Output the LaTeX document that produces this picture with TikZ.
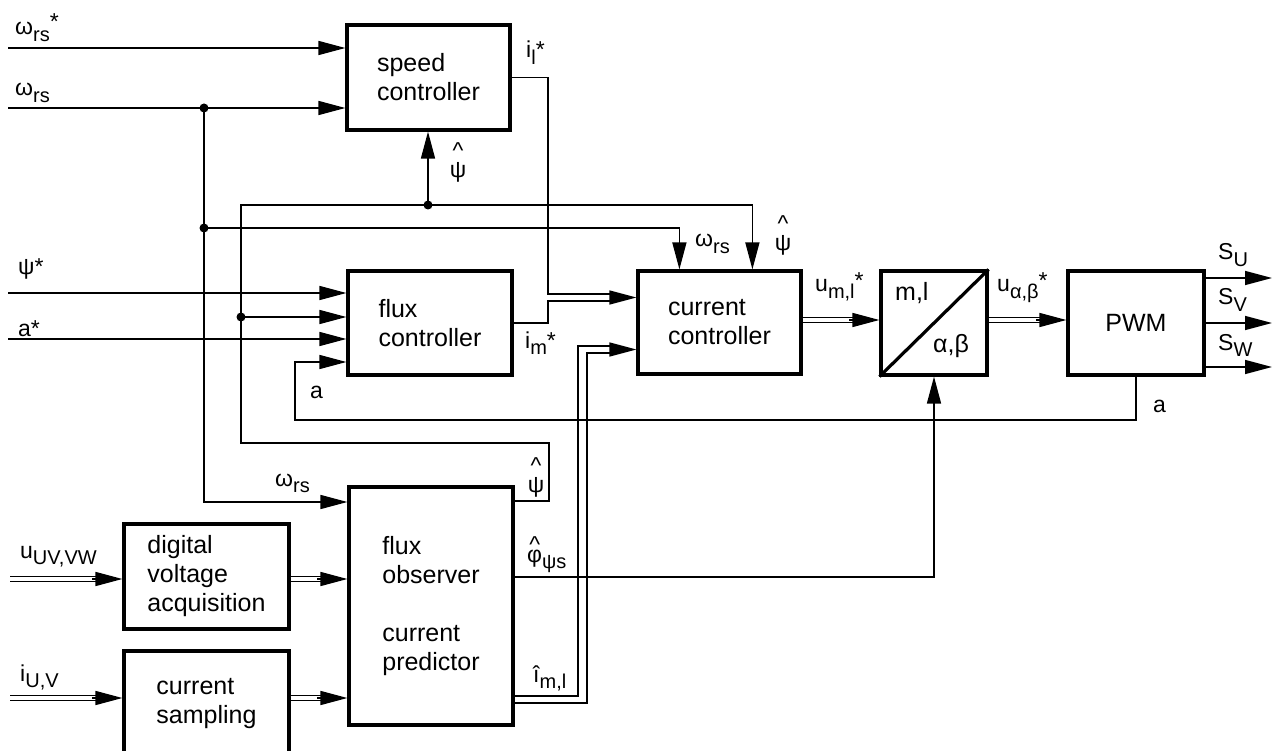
\documentclass[tikz,border=0pt]{standalone}
\usepackage{fontspec}
\setmainfont{Liberation Sans}
\usetikzlibrary{arrows.meta,calc}
\newcommand\sbs[1]{\raisebox{-0.3em}{\fontsize{20}{20}\selectfont #1}}
\newcommand\sps{\raisebox{3pt}{*}}
\newcommand\hatover[1]{\begin{tabular}{@{}c@{}}\^{}\\[-8pt]#1\end{tabular}}
\newcommand\hatphi{\ooalign{φ\cr\hidewidth\raisebox{10pt}{\^{}}\hidewidth\cr}}
\begin{document}
\begin{tikzpicture}[x=1pt,y=-1pt,
 box/.style={draw, line width=3.2pt, align=left, font=\fontsize{25}{29}\selectfont, inner sep=0pt},
 ln/.style={line width=1.5pt},
 arr/.style={ln,-{Triangle[length=27pt,width=14pt]}},
 dbl/.style={double, double distance=4pt, line width=1.3pt},
 dot/.style={circle, fill, inner sep=0pt, minimum size=9pt},
 lab/.style={anchor=base west, inner sep=0pt, font=\fontsize{23}{27}\selectfont},
 clab/.style={inner sep=0pt, font=\fontsize{23}{27}\selectfont}]
\useasboundingbox (0,0) rectangle (1274,751);
\clip (0,0) rectangle (1274,751);
% boxes
\node[box, minimum width=163pt, minimum height=105pt] (sc) at (428.5,77.5) {speed\\controller};
\node[box, minimum width=164pt, minimum height=104pt] (fc) at (430,323) {flux\\controller};
\node[box, minimum width=163pt, minimum height=103pt] (cc) at (719.5,322.5) {current\\controller};
\node[box, minimum width=106pt, minimum height=104pt] (tr) at (934,323) {};
\node[box, minimum width=136pt, minimum height=104pt] (pwm) at (1136,323) {PWM};
\node[box, minimum width=164pt, minimum height=238pt] (fo) at (431,606) {flux\\observer\\[29pt]current\\predictor};
\node[box, minimum width=165pt, minimum height=105pt] (dva) at (206.5,576.5) {digital\\voltage\\acquisition};
\node[box, minimum width=165pt, minimum height=105pt] (cs) at (206.5,703.5) {current\\sampling};
\draw[line width=3.2pt] (tr.south west) -- (tr.north east);
\node[lab, font=\fontsize{25}{29}\selectfont] (ml) at (895,301) {m,l};
\node[lab, font=\fontsize{25}{29}\selectfont] (ab) at (933,352) {α,β};
% coordinates
\coordinate (wsIn) at (8,48);
\coordinate (wIn) at (8,108);
\coordinate (wfo) at (0,502);
\coordinate (psiO) at (0,501);
\coordinate (b1) at (549,443);
\coordinate (b2) at (241,205);
\coordinate (psiIn) at (8,293);
\coordinate (asIn) at (8,339);
\coordinate (aIn) at (0,362);
\coordinate (aL) at (295,420);
\coordinate (ilB) at (548,294);
\coordinate (imB) at (548,301);
\coordinate (t1) at (611,297.5);
\coordinate (t2) at (611,349.5);
\coordinate (q1) at (578,346);
\coordinate (q2) at (587,353);
\coordinate (y1) at (0,696);
\coordinate (y2) at (0,703);
\coordinate (u1) at (0,320);
\coordinate (sU) at (1272,278);
\coordinate (sV) at (1272,323);
\coordinate (sW) at (1272,367);
\coordinate (yphi) at (0,577);
\coordinate (uIn) at (10,579);
\coordinate (iIn) at (10,698);
% dots
\node[dot] (d1) at (204,108) {};
\node[dot] (d2) at (204,228) {};
\node[dot] (d3) at (428,205) {};
\node[dot] (d4) at (241,317) {};
% connectors
\draw[arr] (wsIn) -- (sc.west|-wsIn);
\draw[arr] (wIn) -- (sc.west|-wIn);
\draw[ln] (d1.center) -- (d2.center);
\draw[arr] (d2.center) |- (fo.west|-wfo);
\draw[arr] (d2.center) -| ($(cc.north west)+(43,0)$);
\draw[arr] (fo.east|-psiO) -| (b1) -| (b2) -| ($(cc.north west)+(116,0)$);
\draw[arr] (d3.center) -- (sc.south-|d3);
\draw[arr] (d4.center) -- (fc.west|-d4);
\draw[arr] (psiIn) -- (fc.west|-psiIn);
\draw[arr] (asIn) -- (fc.west|-asIn);
\draw[arr] (pwm.south) |- (aL) |- (fc.west|-aIn);
\draw[ln] (sc.east) -| (ilB) -- (ilB-|t1);
\draw[ln] (fc.east) -| (imB) -- (imB-|t1);
\draw[arr] (t1) -- (cc.west|-t1);
\draw[ln] (fo.east|-y1) -| (q1) -- (q1-|t2);
\draw[ln] (fo.east|-y2) -| (q2) -- (q2-|t2);
\draw[arr] (t2) -- (cc.west|-t2);
\draw[dbl] (cc.east|-u1) -- ($(tr.west|-u1)+(-25,0)$);
\draw[arr] ($(tr.west|-u1)+(-30,0)$) -- (tr.west|-u1);
\draw[dbl] (tr.east|-u1) -- ($(pwm.west|-u1)+(-25,0)$);
\draw[arr] ($(pwm.west|-u1)+(-30,0)$) -- (pwm.west|-u1);
\draw[arr] (pwm.east|-sU) -- (sU);
\draw[arr] (pwm.east|-sV) -- (sV);
\draw[arr] (pwm.east|-sW) -- (sW);
\draw[arr] (fo.east|-yphi) -| (tr.south);
\draw[dbl] (uIn) -- ($(dva.west|-uIn)+(-25,0)$);
\draw[arr] ($(dva.west|-uIn)+(-30,0)$) -- (dva.west|-uIn);
\draw[dbl] (dva.east|-uIn) -- ($(fo.west|-uIn)+(-25,0)$);
\draw[arr] ($(fo.west|-uIn)+(-30,0)$) -- (fo.west|-uIn);
\draw[dbl] (iIn) -- ($(cs.west|-iIn)+(-25,0)$);
\draw[arr] ($(cs.west|-iIn)+(-30,0)$) -- (cs.west|-iIn);
\draw[dbl] (cs.east|-iIn) -- ($(fo.west|-iIn)+(-25,0)$);
\draw[arr] ($(fo.west|-iIn)+(-30,0)$) -- (fo.west|-iIn);
% labels
\node[lab] (L1) at (15,35) {ω\sbs{rs}\raisebox{5pt}{*}};
\node[lab] (L2) at (15,96) {ω\sbs{rs}};
\node[lab] (L3) at (18,275) {ψ*};
\node[lab] (L4) at (18,336) {a*};
\node[lab] (L5) at (310,398) {a};
\node[lab] (L6) at (526,58) {i\sbs{l}*};
\node[clab] (L7) at (458,163) {\hatover{ψ}};
\node[lab] (L8) at (695,247) {ω\sbs{rs}};
\node[clab] (L9) at (783,236) {\hatover{ψ}};
\node[lab] (L10) at (525,348) {i\sbs{m}*};
\node[lab] (L11) at (815,292) {u\sbs{m,l}\sps};
\node[lab] (L12) at (997,292) {u\sbs{α,β}\sps};
\node[lab] (L13) at (1218,260) {S\sbs{U}};
\node[lab] (L14) at (1218,305) {S\sbs{V}};
\node[lab] (L15) at (1218,350) {S\sbs{W}};
\node[lab] (L16) at (1153,412) {a};
\node[lab] (L17) at (275,486) {ω\sbs{rs}};
\node[clab] (L18) at (536,478) {\hatover{ψ}};
\node[lab] (L19) at (527,562) {\hatphi\sbs{ψs}};
\node[lab] (L20) at (533,682) {î\sbs{m,l}};
\node[lab] (L21) at (20,558) {u\sbs{UV,VW}};
\node[lab] (L22) at (20,681) {i\sbs{U,V}};
\end{tikzpicture}
\end{document}
